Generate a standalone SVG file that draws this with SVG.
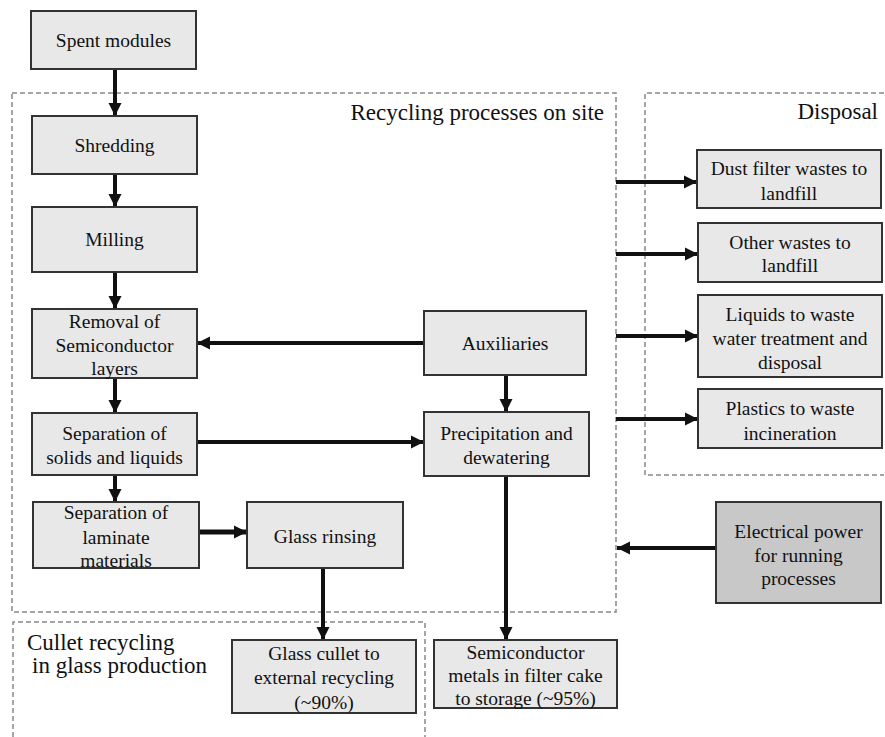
<svg xmlns="http://www.w3.org/2000/svg" width="885" height="737" viewBox="0 0 885 737" font-family="'Liberation Serif', 'Times New Roman', Times, serif">
<defs>
<marker id="ah" markerUnits="userSpaceOnUse" markerWidth="14" markerHeight="14" refX="13" refY="7" orient="auto">
<path d="M0,0.5 L13,7 L0,13.5 z" fill="#111"/>
</marker>
<style>
.box{fill:#e8e8e8;stroke:#333;stroke-width:2}
.dark{fill:#c8c8c8;stroke:#333;stroke-width:2}
.t{font-family:'Liberation Serif',Times,serif;font-size:19.5px;fill:#111;text-anchor:middle}
.lbl{font-family:'Liberation Serif',Times,serif;font-size:23px;fill:#111}
.dash{fill:none;stroke:#888;stroke-width:1.5;stroke-dasharray:5 3}
.c{fill:none;stroke:#111;stroke-width:4;marker-end:url(#ah)}
</style>
</defs>
<rect width="885" height="737" fill="#fff"/>
<g id="regions">
<rect class="dash" x="12" y="93" width="604" height="519"/>
<path class="dash" d="M884,93 H645 V475 H884"/>
<path class="dash" d="M13,737 V622 H425 V737"/>
<text class="lbl" x="604" y="120" text-anchor="end">Recycling processes on site</text>
<text class="lbl" x="878" y="119" text-anchor="end">Disposal</text>
<text class="lbl" x="27" y="650">Cullet recycling</text>
<text class="lbl" x="32" y="673">in glass production</text>
</g>
<g id="connectors">
<path class="c" d="M115,69 V116"/>
<path class="c" d="M115,174 V207"/>
<path class="c" d="M115,272 V309"/>
<path class="c" d="M115,378 V413"/>
<path class="c" d="M115,475 V502"/>
<path class="c" d="M424,343 H197"/>
<path class="c" d="M197,442 H424"/>
<path class="c" d="M506,375 V412"/>
<path class="c" d="M199,532 H247" style="stroke-width:5"/>
<path class="c" d="M323,568 V640"/>
<path class="c" d="M506,476 V640"/>
<path class="c" d="M616,182 H697"/>
<path class="c" d="M616,254 H698"/>
<path class="c" d="M616,336 H698"/>
<path class="c" d="M616,419 H698"/>
<path class="c" d="M716,548 H617"/>
</g>
<g id="spent"><rect class="box" x="31" y="11" width="165" height="58"/><text class="t" x="113.5" y="46.5">Spent modules</text></g>
<g id="shredding"><rect class="box" x="32" y="116" width="165" height="58"/><text class="t" x="114.5" y="151.5">Shredding</text></g>
<g id="milling"><rect class="box" x="32" y="207" width="165" height="65"/><text class="t" x="114.5" y="246">Milling</text></g>
<g id="removal"><rect class="box" x="32" y="309" width="165" height="69"/><text class="t" x="114.5" y="328">Removal of</text><text class="t" x="114.5" y="352">Semiconductor</text><text class="t" x="114.5" y="375">layers</text></g>
<g id="sepsolids"><rect class="box" x="32" y="413" width="165" height="62"/><text class="t" x="114.5" y="440">Separation of</text><text class="t" x="114.5" y="464">solids and liquids</text></g>
<g id="laminate"><rect class="box" x="33" y="502" width="166" height="66"/><text class="t" x="116" y="518.5">Separation of</text><text class="t" x="116" y="543.5">laminate</text><text class="t" x="116" y="566.5">materials</text></g>
<g id="rinsing"><rect class="box" x="247" y="502" width="156" height="66"/><text class="t" x="325" y="543">Glass rinsing</text></g>
<g id="auxiliaries"><rect class="box" x="424" y="311" width="162" height="64"/><text class="t" x="505" y="349.5">Auxiliaries</text></g>
<g id="precipitation"><rect class="box" x="424" y="412" width="165" height="64"/><text class="t" x="506.5" y="439.5">Precipitation and</text><text class="t" x="506.5" y="463.5">dewatering</text></g>
<g id="dust"><rect class="box" x="697" y="150" width="184" height="58"/><text class="t" x="789" y="174.5">Dust filter wastes to</text><text class="t" x="789" y="199.5">landfill</text></g>
<g id="other"><rect class="box" x="698" y="223" width="184" height="59"/><text class="t" x="790" y="248.5">Other wastes to</text><text class="t" x="790" y="271.5">landfill</text></g>
<g id="liquids"><rect class="box" x="698" y="295" width="184" height="82"/><text class="t" x="790" y="320.5">Liquids to waste</text><text class="t" x="790" y="344.5">water treatment and</text><text class="t" x="790" y="368.5">disposal</text></g>
<g id="plastics"><rect class="box" x="698" y="389" width="184" height="59"/><text class="t" x="790" y="414.5">Plastics to waste</text><text class="t" x="790" y="439.5">incineration</text></g>
<g id="electrical"><rect class="dark" x="716" y="502" width="165" height="101"/><text class="t" x="798.5" y="537.5">Electrical power</text><text class="t" x="798.5" y="561.5">for running</text><text class="t" x="798.5" y="584.5">processes</text></g>
<g id="cullet"><rect class="box" x="232" y="640" width="184" height="73"/><text class="t" x="324" y="659.5">Glass cullet to</text><text class="t" x="324" y="683.5">external recycling</text><text class="t" x="324" y="708.5">(~90%)</text></g>
<g id="semimetals"><rect class="box" x="434" y="640" width="183" height="68"/><text class="t" x="525.5" y="658.5">Semiconductor</text><text class="t" x="525.5" y="681.5">metals in filter cake</text><text class="t" x="525.5" y="704.5">to storage (~95%)</text></g>
</svg>
